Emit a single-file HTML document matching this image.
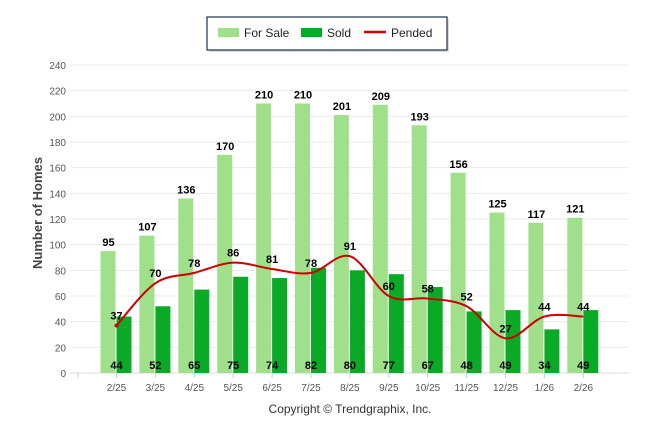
<!DOCTYPE html>
<html><head><meta charset="utf-8"><style>
body{margin:0;background:#fff;font-family:"Liberation Sans",sans-serif}
svg text{font-family:"Liberation Sans",sans-serif}
</style></head><body>
<svg id="c" width="646" height="434" xmlns="http://www.w3.org/2000/svg">
<g>
<rect x="209" y="19" width="240" height="33" fill="#bbb" opacity="0.5"/>
<rect x="207" y="17" width="240" height="33" fill="#fff" stroke="#1f3050" stroke-width="1.2"/>
<rect x="218" y="28" width="21" height="9" fill="#a0e08a"/>
<text x="244" y="37" font-size="12" fill="#222">For Sale</text>
<rect x="301" y="28" width="21" height="9" fill="#0aaa26"/>
<text x="327" y="37" font-size="12" fill="#222">Sold</text>
<line x1="364" y1="32" x2="386" y2="32" stroke="#c00" stroke-width="2.5"/>
<text x="391" y="37" font-size="12" fill="#222">Pended</text>
</g>
<text transform="translate(42,213) rotate(-90)" text-anchor="middle" font-size="13" font-weight="bold" fill="#444">Number of Homes</text>
<text x="350" y="413" text-anchor="middle" font-size="12" fill="#333">Copyright © Trendgraphix, Inc.</text>
<g id="grid"></g><g id="bars"></g><g id="line"></g><g id="labels"></g>
</svg>
<script>
const categories=["2/25","3/25","4/25","5/25","6/25","7/25","8/25","9/25","10/25","11/25","12/25","1/26","2/26"];
const forSale=[95,107,136,170,210,210,201,209,193,156,125,117,121];
const sold=[44,52,65,75,74,82,80,77,67,48,49,34,49];
const pended=[37,70,78,86,81,78,91,60,58,52,27,44,44];
const yTicks=[0,20,40,60,80,100,120,140,160,180,200,220,240];
const NS="http://www.w3.org/2000/svg";
const y0=373,yScale=308/240,x0=116.5,step=38.9;
const Y=v=>y0-v*yScale, X=i=>x0+i*step;
function mk(tag,attrs,parent,text){const e=document.createElementNS(NS,tag);for(const k in attrs)e.setAttribute(k,attrs[k]);if(text!==undefined)e.textContent=text;document.getElementById(parent).appendChild(e);return e;}
yTicks.forEach(t=>{
 const l=mk('line',{x1:70,x2:629,y1:Y(t),y2:Y(t),stroke:t?'#ebebeb':'#ddd','stroke-width':1},'grid');
 
 
 const tx=mk('text',{x:66,y:Y(t)+4,'text-anchor':'end','font-size':10,fill:'#555'},'grid',t);
 
 
});
mk('line',{x1:78,x2:78,y1:373,y2:378,stroke:'#ccc'},'grid');
categories.forEach((c,i)=>{
 mk('line',{x1:X(i),x2:X(i),y1:373,y2:378,stroke:'#ccc'},'grid');
 const t=mk('text',{x:X(i),y:391,'text-anchor':'middle','font-size':10,fill:'#555'},'grid',c);
 
 
 const b1=mk('rect',{x:X(i)-16,y:Y(forSale[i]),width:15,height:forSale[i]*yScale,fill:'#a0e08a'},'bars');
 
 
 const b2=mk('rect',{x:X(i),y:Y(sold[i]),width:15,height:sold[i]*yScale,fill:'#0aaa26'},'bars');
 
 
 const l1=mk('text',{x:X(i)-8,y:Y(forSale[i])-5,'text-anchor':'middle','font-size':11,'font-weight':'bold',fill:'#000'},'labels',forSale[i]);
 
 
 const l2=mk('text',{x:X(i),y:369,'text-anchor':'middle','font-size':11,'font-weight':'bold',fill:'#000'},'labels',sold[i]);
 
 
 const l3=mk('text',{x:X(i),y:Y(pended[i])-6,'text-anchor':'middle','font-size':11,'font-weight':'bold',fill:'#000'},'labels',pended[i]);
 
 
});
const pts=pended.map((v,i)=>[X(i),Y(v)]);
let d='M'+pts[0][0]+','+pts[0][1];
for(let i=0;i<pts.length-1;i++){
 const p0=pts[i-1]||pts[i],p1=pts[i],p2=pts[i+1],p3=pts[i+2]||p2;
 d+=` C${p1[0]+(p2[0]-p0[0])/6},${p1[1]+(p2[1]-p0[1])/6} ${p2[0]-(p3[0]-p1[0])/6},${p2[1]-(p3[1]-p1[1])/6} ${p2[0]},${p2[1]}`;
}
const pl=mk('path',{d:d,fill:'none',stroke:'#c00','stroke-width':2},'line');


mk('circle',{cx:pts[0][0],cy:pts[0][1],r:2,fill:'#c00'},'line');
</script>
</body></html>
